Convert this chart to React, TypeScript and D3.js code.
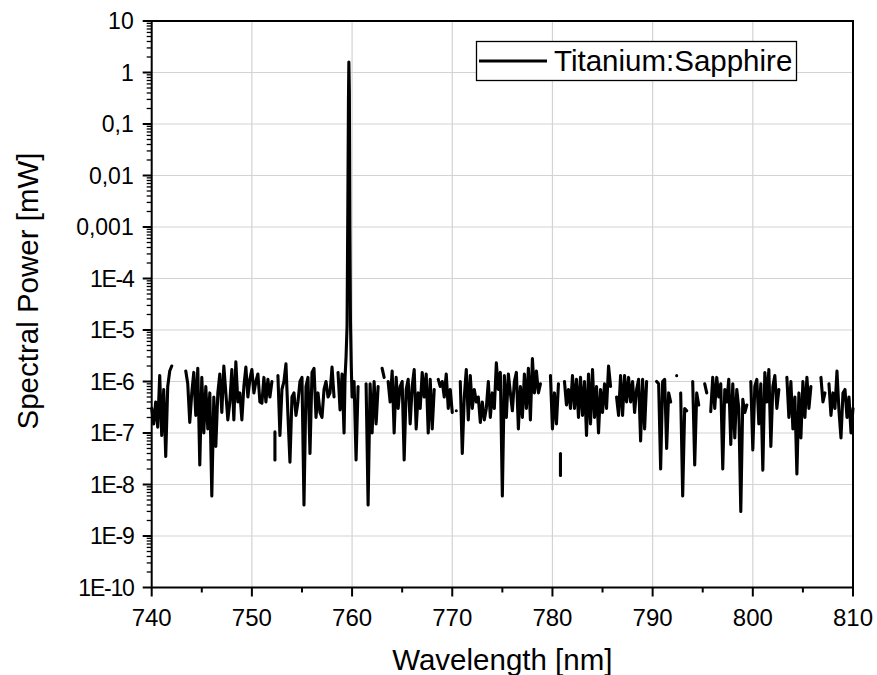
import React from 'react';
import * as d3 from 'd3';

// Spectral power [mW], sampled every 0.2 nm from 740.0 to 810.0 nm (null = no data / non-positive)
const power: (number | null)[] = [
  3e-7, 1.5e-7, 4e-7, 1.3e-7, 1.3e-6, 9e-8, 7e-7, 3.5e-8, 8e-7, 1.6e-6, // 740
  2e-6, null, null, null, null, null, null, 1.6e-6, 9e-7, 1.6e-7, // 742
  6e-7, 1.5e-6, 2.2e-7, 1.8e-6, 2.4e-8, 1.2e-6, 1e-7, 8e-7, 1.2e-7, 6e-7, // 744
  6e-9, 5e-7, 5.5e-8, 6e-7, 1.4e-6, 2.5e-7, 2e-6, 6e-7, 1.8e-7, 4e-7, // 746
  1.7e-6, 1.8e-7, 2.4e-6, 4e-7, 6e-7, 1.8e-7, 8e-7, 1.9e-6, 5e-7, 1.1e-6, // 748
  1.7e-6, 6e-7, 1e-6, 1.4e-6, 4e-7, 3.8e-7, 1.2e-6, 4e-7, 1.1e-6, 5e-7, // 750
  1e-6, null, null, 1.3e-6, 9e-8, 7e-7, 1e-6, 2.2e-6, 2.2e-7, 2.7e-8, // 752
  5e-7, 6e-7, 2.2e-7, 4e-7, 1e-6, 1.2e-6, 4e-9, 8e-7, 1.2e-6, 4e-8, // 754
  1.5e-6, 1.8e-6, 2e-7, 6e-7, 2.5e-7, 2e-7, 7e-7, 1e-6, 5e-7, 6e-7, // 756
  1.9e-6, 5e-7, null, 1.5e-6, 2.8e-7, 1.4e-6, 1e-7, null, null, null, // 758
  5e-7, 1e-6, 3e-8, 8e-7, null, null, null, 9e-7, 4e-9, 9e-7, // 760
  1e-7, 1e-6, 1.5e-7, 8e-7, null, 1.8e-6, 1.2e-6, null, 1e-6, 4e-7, // 762
  1.6e-6, 1e-7, 1.2e-6, 3e-7, 8e-7, 1e-6, 3e-8, 7e-7, 1.1e-6, 1.5e-7, // 764
  8e-7, 1.7e-6, 1.2e-7, 6e-7, 3e-7, 1.5e-6, 5e-7, 1.4e-6, 1e-7, 1.1e-6, // 766
  1.2e-7, 7e-7, null, 1.1e-6, 8e-7, 1e-6, 5e-7, 1.4e-6, 3e-7, 7e-7, // 768
  2.5e-7, null, 2.7e-7, null, 1e-6, 4e-8, 5e-7, 1.7e-6, 1.8e-7, 1.3e-6, // 770
  3e-7, 7e-7, 4e-7, 5e-7, 1.6e-7, 4e-7, 1.8e-7, 3e-7, 1e-6, 2e-7, // 772
  6e-7, 3e-7, 2.3e-6, 7e-7, 1.5e-6, 6e-9, 1.3e-6, 2e-7, 1.4e-6, 6e-7, // 774
  2.7e-7, 1e-6, 1.5e-6, 1.2e-7, 8e-7, 2e-7, 1.4e-6, 3e-7, 1.8e-6, 1.8e-7, // 776
  2.8e-6, 6e-7, 1.6e-6, 6e-7, 9e-7, null, null, null, null, 1.3e-6, // 778
  1.2e-7, 6e-7, 1.5e-7, 9e-7, null, null, 1e-6, 3.5e-7, 7e-7, 3e-7, // 780
  1.3e-6, 3e-7, 1.1e-6, 2e-7, 1.2e-6, 2.2e-7, 1e-6, 9e-8, 1.4e-6, 1.5e-7, // 782
  1.7e-6, 2e-7, 8e-7, 1e-7, 7e-7, 2.5e-7, 9e-7, 3e-7, 2e-6, 8e-7, // 784
  null, null, 5e-7, 2.2e-7, 1.3e-6, 2.2e-7, 1.3e-6, 4e-7, 1.2e-6, 4e-7, // 786
  1e-6, 2.5e-7, 7e-7, 1.1e-6, 7e-8, 1.1e-6, 1.2e-7, 1e-6, null, null, // 788
  null, null, 1e-6, 9e-7, 2e-8, 1e-6, 1.1e-6, 5e-8, 6e-7, 4e-7, // 790
  null, null, 1.3e-6, null, 6e-7, 6e-9, 3e-7, 2.7e-7, null, null, // 792
  1e-6, 2.4e-8, 6e-7, 3.5e-7, null, null, 9e-7, 6e-7, null, 2.6e-7, // 794
  1.2e-6, 3e-7, 1.2e-6, 5e-7, 9e-7, 2e-8, 7e-7, 4e-7, 1.1e-6, 6e-8, // 796
  9e-7, 8e-8, 7e-7, 3e-7, 3e-9, 4.5e-7, 2.5e-7, 3.5e-7, null, 1e-6, // 798
  4.7e-8, 8e-7, 1.1e-6, 1.5e-7, 9e-7, 1.9e-8, 1.5e-6, 4e-7, 1.7e-6, 5.5e-8, // 800
  8e-7, 1.3e-6, 3e-7, 7e-7, null, null, null, 1.2e-6, 2e-7, 1e-6, // 802
  1.2e-7, 5e-7, 1.6e-8, 6e-7, 8e-8, 1e-6, 2e-7, 1.2e-6, 3e-7, 8e-7, // 804
  null, null, null, null, 1.2e-6, 4e-7, 6e-7, null, 9e-7, 2.2e-7, // 806
  6e-7, 3e-7, 1.6e-6, 2.7e-7, 8e-8, 6e-7, 7e-7, 2e-7, 5e-7, 1e-7, // 808
  3e-7, // 810
];
const wlStart = 740;
const wlStep = 0.2;

// Laser line (finer sampling around the peak)
const peakWl = [759.2, 759.3, 759.4, 759.5, 759.58, 759.64, 759.68, 759.73, 759.78, 759.84, 759.92, 760.0];
const peakPw = [1e-7, 1.2e-6, 3e-6, 1.2e-5, 3e-3, 0.3, 1.6, 0.4, 1e-3, 1.5e-5, 2e-6, 5e-7];

// isolated short fragments
const isoWl = [752.3, 780.8];
const isoHigh = [1.05e-7, 4e-8];
const isoLow = [3e-8, 1.5e-8];

const xTicks = [740, 750, 760, 770, 780, 790, 800, 810];
const xMinor = [745, 755, 765, 775, 785, 795, 805];
const yTicks = [10, 1, 0.1, 0.01, 0.001, 1e-4, 1e-5, 1e-6, 1e-7, 1e-8, 1e-9, 1e-10];
const yTickLabels = ['10', '1', '0,1', '0,01', '0,001', '1E-4', '1E-5', '1E-6', '1E-7', '1E-8', '1E-9', '1E-10'];
const seriesName = 'Titanium:Sapphire';
const xTitle = 'Wavelength [nm]';
const yTitle = 'Spectral Power [mW]';

const FONT = '"Liberation Sans", Arial, sans-serif';

type Pt = { w: number; v: number | null };

export default function App() {
  const W = 877;
  const H = 675;
  const left = 151.7, right = 853, top = 21, bottom = 587.5;
  const x = d3.scaleLinear().domain([740, 810]).range([left, right]);
  const y = d3.scaleLog().domain([1e-10, 10]).range([bottom, top]);

  const grid: Pt[] = power.map((v, i) => ({ w: wlStart + i * wlStep, v }));
  const pts: Pt[] = grid
    .filter((p) => p.w < peakWl[0] - 1e-6 || p.w > peakWl[peakWl.length - 1] + 1e-6)
    .concat(peakWl.map((w, i) => ({ w, v: peakPw[i] })))
    .sort((a, b) => a.w - b.w);

  const line = d3
    .line<Pt>()
    .defined((d) => d.v != null && d.v > 0)
    .x((d) => x(d.w))
    .y((d) => y(d.v as number));

  const yMinor: number[] = [];
  for (let e = -10; e < 1; e++) {
    for (let k = 2; k <= 9; k++) yMinor.push(k * Math.pow(10, e));
  }

  const gridColor = '#d3d3d3';
  const lw = 3.1;

  return (
    <svg width={W} height={H} style={{ position: 'absolute', left: 0, top: 0, background: '#fff' }} fontFamily={FONT}>
      <rect x={0} y={0} width={W} height={H} fill="#fff" />
      {/* grid */}
      {xTicks.slice(1, -1).map((t) => (
        <line key={'gx' + t} x1={x(t)} x2={x(t)} y1={top} y2={bottom} stroke={gridColor} strokeWidth={1.2} />
      ))}
      {yTicks.slice(1, -1).map((t) => (
        <line key={'gy' + t} x1={left} x2={right} y1={y(t)} y2={y(t)} stroke={gridColor} strokeWidth={1.2} />
      ))}

      {/* data */}
      <path d={line(pts) || ''} fill="none" stroke="#000" strokeWidth={lw} strokeLinejoin="round" strokeLinecap="round" />
      {isoWl.map((w, i) => (
        <line key={'iso' + i} x1={x(w)} x2={x(w)} y1={y(isoHigh[i])} y2={y(isoLow[i])} stroke="#000" strokeWidth={lw} strokeLinecap="round" />
      ))}

      {/* frame */}
      <rect x={left} y={top} width={right - left} height={bottom - top} fill="none" stroke="#000" strokeWidth={2} />

      {/* y ticks */}
      {yMinor.map((t, i) => (
        <line key={'ym' + i} x1={left - 5} x2={left} y1={y(t)} y2={y(t)} stroke="#000" strokeWidth={1.3} />
      ))}
      {yTicks.map((t, i) => (
        <g key={'yt' + i}>
          <line x1={left - 9} x2={left} y1={y(t)} y2={y(t)} stroke="#000" strokeWidth={2} />
          <text
            x={left - 18}
            y={y(t)}
            textAnchor="end"
            dominantBaseline="central"
            fontSize={23}
            letterSpacing={yTickLabels[i].includes('E') ? -1.2 : 0}
            fill="#000"
          >
            {yTickLabels[i]}
          </text>
        </g>
      ))}

      {/* x ticks */}
      {xMinor.map((t) => (
        <line key={'xm' + t} x1={x(t)} x2={x(t)} y1={bottom} y2={bottom + 5} stroke="#000" strokeWidth={2} />
      ))}
      {xTicks.map((t) => (
        <g key={'xt' + t}>
          <line x1={x(t)} x2={x(t)} y1={bottom} y2={bottom + 9} stroke="#000" strokeWidth={2} />
          <text x={x(t)} y={bottom + 38} textAnchor="middle" fontSize={24} fill="#000">
            {t}
          </text>
        </g>
      ))}

      {/* axis titles */}
      <text x={(left + right) / 2} y={670} textAnchor="middle" fontSize={29.5} fill="#000">
        {xTitle}
      </text>
      <text
        transform={`translate(38, 291) rotate(-90)`}
        textAnchor="middle"
        fontSize={29.5}
        fill="#000"
      >
        {yTitle}
      </text>

      {/* legend */}
      <rect x={476.5} y={41.5} width={320} height={39} fill="#fff" stroke="#000" strokeWidth={1.3} />
      <line x1={479} x2={547} y1={61} y2={61} stroke="#000" strokeWidth={lw} />
      <text x={554} y={71} fontSize={29.5} fill="#000">
        {seriesName}
      </text>
    </svg>
  );
}
